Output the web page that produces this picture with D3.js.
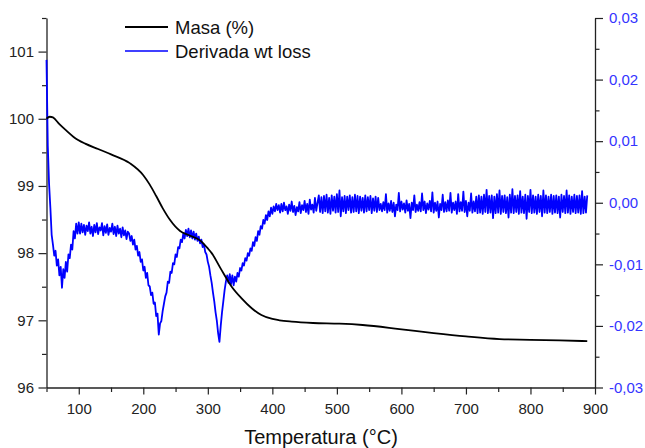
<!DOCTYPE html>
<html>
<head>
<meta charset="utf-8">
<script src="https://cdn.jsdelivr.net/npm/d3@7/dist/d3.min.js"></script>
<style>
  html, body { margin: 0; padding: 0; background: #fff; }
  svg { display: block; }
  text { font-family: "Liberation Sans", Arial, sans-serif; }
</style>
</head>
<body>
<svg id="chart" width="645" height="448"></svg>
<script>
// ---- Data -------------------------------------------------------------
// Residual mass (%) against temperature (°C)
const massTemps = [50, 55, 60, 70, 80, 92, 110, 130, 150, 179, 200, 210, 220, 230, 241, 257, 270,
  288, 300, 306, 320, 337, 352, 368, 383, 400, 411, 430, 463, 504, 540, 597, 650, 700, 752, 800, 845, 888];
const massValues = [100.00, 100.03, 100.02, 99.92, 99.83, 99.73, 99.63, 99.55, 99.47, 99.34, 99.16, 99.02,
  98.85, 98.67, 98.50, 98.33, 98.27, 98.19, 98.07, 98.00, 97.77, 97.50, 97.33, 97.18, 97.08, 97.02, 97.00,
  96.98, 96.96, 96.95, 96.93, 96.87, 96.81, 96.76, 96.72, 96.71, 96.70, 96.69];

// Derivative of the weight loss, in units of 1e-4, recorded every 2 °C from 50 °C
const derivStart = 50;
const derivStep = 2;
const derivValues = [
  232, 92, 30, -8, -52, -68, -86, -78, -102, -92,          // 50
  -118, -104, -138, -108, -122, -96, -112, -84, -90, -68,  // 70
  -76, -46, -58, -34, -50, -32, -50, -34, -48, -36,        // 90
  -52, -37, -46, -32, -50, -39, -54, -36, -48, -33,        // 110
  -51, -40, -45, -33, -53, -38, -49, -35, -52, -41,        // 130
  -47, -34, -51, -39, -54, -37, -50, -42, -56, -40,        // 150
  -53, -45, -59, -47, -50, -62, -54, -68, -60, -76,        // 170
  -70, -86, -80, -96, -92, -110, -104, -122, -114, -134,   // 190
  -136, -150, -146, -164, -162, -184, -180, -214, -196, -192, // 210
  -176, -164, -152, -146, -128, -130, -112, -114, -98, -100,  // 230
  -84, -88, -72, -74, -60, -64, -50, -58, -44, -54,        // 250
  -42, -56, -45, -58, -47, -60, -50, -62, -55, -66,        // 270
  -60, -72, -68, -80, -84, -96, -104, -118, -130, -146,    // 290
  -160, -178, -192, -212, -226, -200, -178, -160, -142, -128, // 310
  -118, -130, -116, -132, -118, -134, -120, -128, -114, -120, // 330
  -106, -110, -98, -102, -90, -94, -82, -86, -74, -78,     // 350
  -64, -70, -56, -62, -46, -52, -38, -42, -28, -34,        // 370
  -20, -28, -14, -22, -8, -18, -6, -14, -2, -12,           // 390
  -4, -16, -2, -14, 0, -12, -6, -18, -3, -13,              // 410
  2, -15, -5, -20, -7, -14, 1, -17, -4, -12,               // 430
  3, -15, -2, -18, 5, -11, -3, -16, 8, -13,                // 450
  0, 12, -15, 9, -17, 11, -14, 13, -16, 8,                 // 470
  -18, 12, -13, 10, -16, 14, -15, 20, -22, 9,              // 490
  -14, 11, -17, 10, -12, 12, -16, 9, -15, 13,              // 510
  -14, 11, -17, 10, -13, 8, -16, 12, -14, 9,               // 530
  -12, 11, -17, 7, -13, 10, -15, 8, -12, -2,               // 550
  -14, 1, -12, 14, -16, -1, -13, 3, -15, 0,                // 570
  -22, -3, -12, 16, -14, 2, -11, -1, -16, 4,               // 590
  -13, -2, -25, 0, -12, 12, -15, -3, -13, 1,               // 610
  -14, 15, -12, 2, -17, -1, -11, 3, -14, 17,               // 630
  -16, 0, -13, 2, -24, -2, -12, 13, -15, 1,                // 650
  -14, 4, -13, 16, -16, 0, -12, 2, -18, 14,                // 670
  -14, 1, -13, 18, -15, 3, -22, 0, -13, 15,                // 690
  -16, 2, -14, 10, -17, 12, -16, 10, -18, 13,              // 710
  -15, 21, -17, 11, -16, 12, -25, 10, -17, 14,             // 730
  -16, 20, -18, 11, -15, 12, -17, 9, -24, 13,              // 750
  -16, 22, -17, 11, -15, 12, -18, 19, -16, 10,             // 770
  -17, 13, -26, 11, -15, 21, -17, 12, -16, 10,             // 790
  -18, 13, -15, 11, -22, 20, -16, 12, -17, 10,             // 810
  -15, 13, -18, 11, -16, 12, -17, 10, -24, 13,             // 830
  -15, 11, -17, 20, -16, 12, -18, 10, -15, 13,             // 850
  -17, 11, -16, 12, -18, 19, -17, 10, -16, 12              // 870
];
const derivUnit = 1e-4;

// Axis ticks
const tempTicks = [100, 200, 300, 400, 500, 600, 700, 800, 900];
const tempMinorTicks = [50, 150, 250, 350, 450, 550, 650, 750, 850];
const massTicks = [96, 97, 98, 99, 100, 101];
const massMinorTicks = [96.5, 97.5, 98.5, 99.5, 100.5, 101.5];
const derivTicks = [-0.03, -0.02, -0.01, 0, 0.01, 0.02, 0.03];
const derivMinorTicks = [-0.025, -0.015, -0.005, 0.005, 0.015, 0.025];

const seriesNames = ["Masa (%)", "Derivada wt loss"];
const xTitle = "Temperatura (°C)";

// ---- Layout -----------------------------------------------------------
const plot = { left: 46.5, right: 595, top: 18, bottom: 387.5 };
const blue = "#0000ff";
const labelBlue = "#3434ff";
const axisColor = "#222";

const svg = d3.select("#chart");
svg.append("rect").attr("width", 645).attr("height", 448).attr("fill", "#fff");

const x = d3.scaleLinear().domain([50, 900]).range([plot.left, plot.right]);
const yMass = d3.scaleLinear().domain([96, 101.5]).range([plot.bottom, plot.top]);
const yDeriv = d3.scaleLinear().domain([-0.03, 0.03]).range([plot.bottom, plot.top]);

const commaLocale = d3.formatLocale({ decimal: ",", thousands: ".", grouping: [3], currency: ["", ""], minus: "-" });
const derivFmt = commaLocale.format(".2f");

function styleAxis(g, color) {
  g.select(".domain").attr("stroke", axisColor).attr("stroke-width", 1.3);
  g.selectAll(".tick line").attr("stroke", axisColor).attr("stroke-width", 1.2);
  g.selectAll(".tick text")
    .attr("fill", color)
    .style("font-size", "15px")
    .style("font-family", "'Liberation Sans', Arial, sans-serif");
}

// Minor ticks first (no labels, no domain line)
svg.append("g").attr("transform", `translate(0,${plot.bottom})`)
  .call(d3.axisBottom(x).tickValues(tempMinorTicks).tickSize(4.5).tickFormat(""))
  .call(g => { g.select(".domain").remove(); styleAxis(g, "#000"); });
svg.append("g").attr("transform", `translate(${plot.left},0)`)
  .call(d3.axisLeft(yMass).tickValues(massMinorTicks).tickSize(4.5).tickFormat(""))
  .call(g => { g.select(".domain").remove(); styleAxis(g, "#000"); });
svg.append("g").attr("transform", `translate(${plot.right},0)`)
  .call(d3.axisRight(yDeriv).tickValues(derivMinorTicks).tickSize(4.5).tickFormat(""))
  .call(g => { g.select(".domain").remove(); styleAxis(g, "#000"); });

// Major axes
svg.append("g").attr("transform", `translate(0,${plot.bottom})`)
  .call(d3.axisBottom(x).tickValues(tempTicks).tickSize(7).tickSizeOuter(0).tickPadding(9).tickFormat(d3.format("d")))
  .call(g => styleAxis(g, "#222"));
svg.append("g").attr("transform", `translate(${plot.left},0)`)
  .call(d3.axisLeft(yMass).tickValues(massTicks).tickSize(8).tickSizeOuter(0).tickPadding(4.5).tickFormat(d3.format("d")))
  .call(g => styleAxis(g, "#222"));
svg.append("g").attr("transform", `translate(${plot.right},0)`)
  .call(d3.axisRight(yDeriv).tickValues(derivTicks).tickSize(8).tickSizeOuter(0).tickPadding(6).tickFormat(derivFmt))
  .call(g => styleAxis(g, labelBlue));

// ---- Series -----------------------------------------------------------
const derivLine = d3.line()
  .x((d, i) => x(derivStart + i * derivStep))
  .y(d => yDeriv(d * derivUnit));
svg.append("path")
  .datum(derivValues)
  .attr("d", derivLine)
  .attr("fill", "none")
  .attr("stroke", blue)
  .attr("stroke-width", 1.8)
  .attr("stroke-linejoin", "round");

const massLine = d3.line()
  .x(d => x(d[0]))
  .y(d => yMass(d[1]))
  .curve(d3.curveMonotoneX);
svg.append("path")
  .datum(d3.zip(massTemps, massValues))
  .attr("d", massLine)
  .attr("fill", "none")
  .attr("stroke", "#000")
  .attr("stroke-width", 1.8);

// ---- Legend -----------------------------------------------------------
const legend = svg.append("g");
const legendColors = ["#000", blue];
const legendRows = [27, 51];
seriesNames.forEach((name, i) => {
  legend.append("line")
    .attr("x1", 125).attr("x2", 168)
    .attr("y1", legendRows[i]).attr("y2", legendRows[i])
    .attr("stroke", legendColors[i]).attr("stroke-width", i === 0 ? 1.8 : 1.3);
  legend.append("text")
    .attr("x", 175).attr("y", legendRows[i] + 6.5)
    .style("font-size", "18.5px")
    .attr("fill", "#111")
    .text(name);
});

// ---- Axis title -------------------------------------------------------
svg.append("text")
  .attr("x", 321)
  .attr("y", 444)
  .attr("text-anchor", "middle")
  .style("font-size", "20px")
  .attr("fill", "#111")
  .text(xTitle);
</script>
</body>
</html>
